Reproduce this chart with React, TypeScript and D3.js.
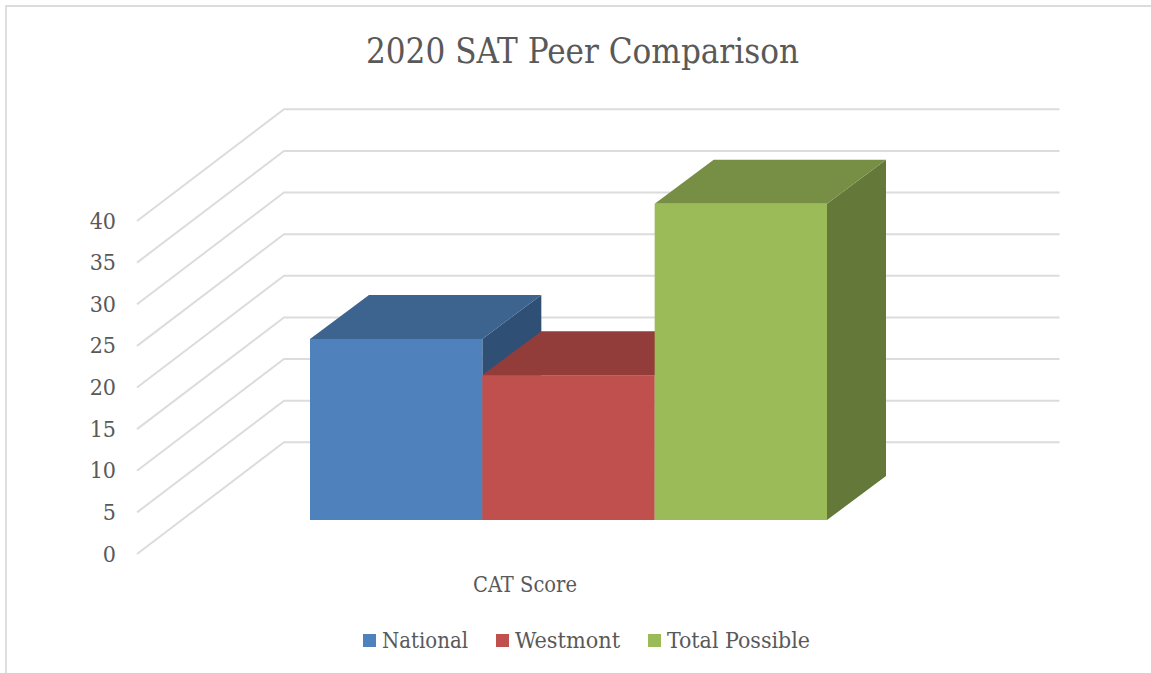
import React from "react";
import * as d3 from "d3";

const title = "2020 SAT Peer Comparison";
const category = "CAT Score";
const yTicks = [0, 5, 10, 15, 20, 25, 30, 35, 40];
const seriesNames = ["National", "Westmont", "Total Possible"];
const seriesValues = [21.75, 17.4, 38];
const frontColors = ["#4f81bd", "#c0504d", "#9bbb59"];
const topColors = ["#3d638f", "#933d3b", "#778e45"];
const sideColors = ["#2f4f75", "#7a3230", "#64783a"];
const legendX = [363, 496, 648];
const legendWidths = [86, 105, 143];

const FONT = "'DejaVu Serif Condensed', 'DejaVu Serif', serif";
const TEXT = "#595959";
const GRID = "#dcdcdc";

export default function App() {
  const yBack = d3.scaleLinear().domain([0, 40]).range([442.3, 109.3]);
  const yFront = d3.scaleLinear().domain([0, 40]).range([554, 221]);
  const barScale = d3.scaleLinear().domain([0, 40]).range([520, 187]);
  const xBand = d3.scaleBand<number>().domain(d3.range(3)).range([310, 827]);
  const depthX = 59;
  const depthY = -44;
  const line = d3.line();
  const poly = (p: [number, number][]) => line(p) + "Z";

  return (
    <svg
      width={1151}
      height={673}
      style={{ position: "absolute", left: 0, top: 0, display: "block" }}
      fontFamily={FONT}
    >
      <rect width={1151} height={673} fill="#fff" />
      <path d="M6 673V6H1151" fill="none" stroke={GRID} strokeWidth={1.8} />
      <text x={582.5} y={63} textAnchor="middle" fontSize={36} fill={TEXT} textLength={433} lengthAdjust="spacingAndGlyphs">
        {title}
      </text>

      {yTicks.map((t) => (
        <path
          key={t}
          d={line([[137, yFront(t)], [284, yBack(t)], [1059.5, yBack(t)]])!}
          fill="none"
          stroke={GRID}
          strokeWidth={2}
        />
      ))}
      {yTicks.map((t) => (
        <text key={t} x={116} y={yFront(t) + 7.5} textAnchor="end" fontSize={23} fill={TEXT}>
          {t}
        </text>
      ))}

      {seriesValues.map((v, i) => {
        const x0 = xBand(i)!;
        const x1 = x0 + xBand.bandwidth();
        const y0 = barScale(0);
        const y1 = barScale(v);
        return (
          <g key={i}>
            <path
              d={poly([[x1, y0], [x1 + depthX, y0 + depthY], [x1 + depthX, y1 + depthY], [x1, y1]])}
              fill={sideColors[i]}
            />
            <path
              d={poly([[x0, y1], [x0 + depthX, y1 + depthY], [x1 + depthX, y1 + depthY], [x1, y1]])}
              fill={topColors[i]}
            />
            <rect x={x0} y={y1} width={x1 - x0} height={y0 - y1} fill={frontColors[i]} />
          </g>
        );
      })}

      <text x={525} y={592} textAnchor="middle" fontSize={23} fill={TEXT} textLength={104} lengthAdjust="spacingAndGlyphs">
        {category}
      </text>

      {seriesNames.map((n, i) => (
        <g key={n}>
          <rect x={legendX[i]} y={634} width={13} height={13} fill={frontColors[i]} />
          <text
            x={legendX[i] + 19}
            y={648}
            fontSize={23}
            fill={TEXT}
            textLength={legendWidths[i]}
            lengthAdjust="spacingAndGlyphs"
          >
            {n}
          </text>
        </g>
      ))}
    </svg>
  );
}
